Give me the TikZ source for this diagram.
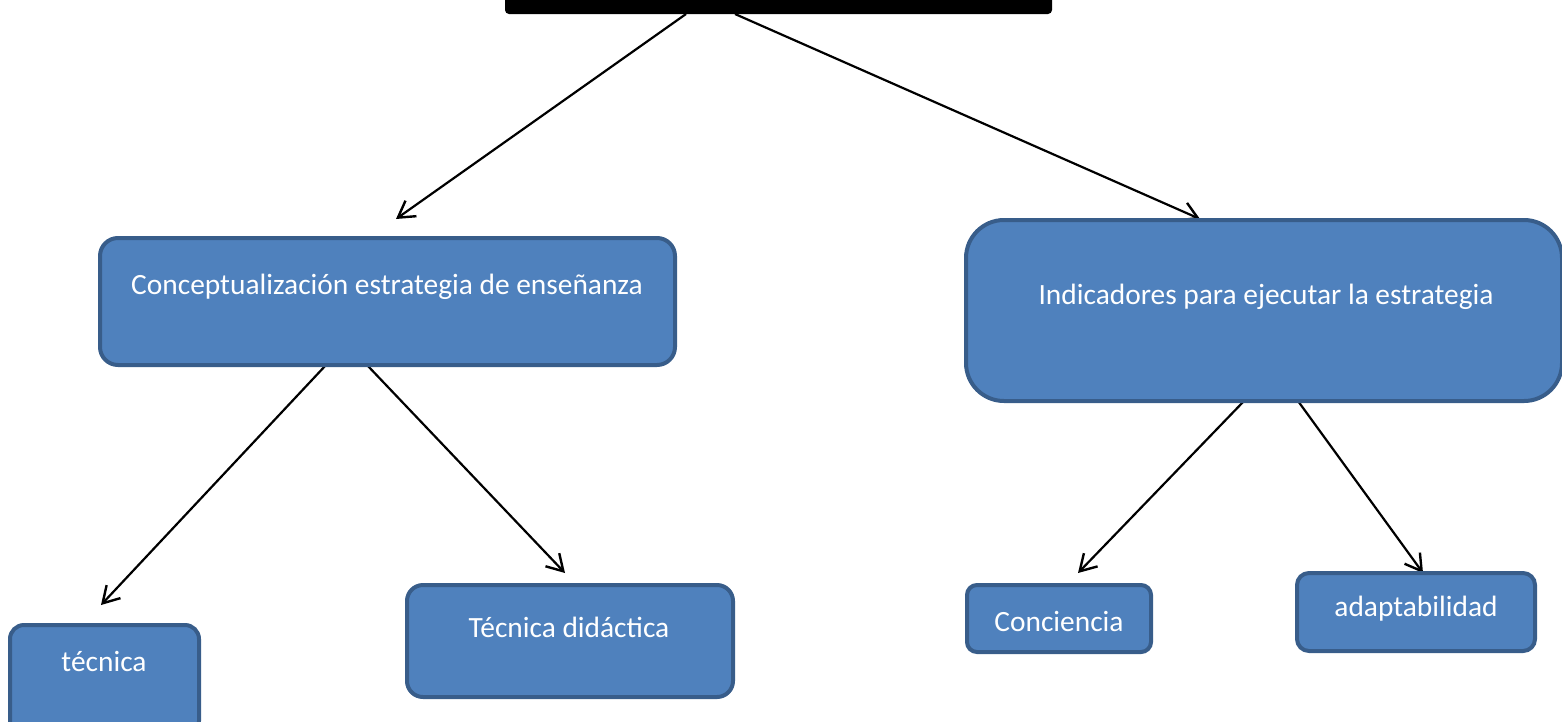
\documentclass[tikz,border=0pt]{standalone}
\usepackage{fontspec}
\setmainfont{Carlito}
\usetikzlibrary{arrows.meta}
\pgfdeclarelayer{edgelayer}
\pgfdeclarelayer{nodelayer}
\pgfsetlayers{edgelayer,nodelayer,main}
\definecolor{boxfill}{HTML}{4F81BD}
\definecolor{boxline}{HTML}{385D8A}
\tikzset{
  box/.style={draw=boxline, fill=boxfill, line width=4pt, rounded corners=#1, inner sep=0pt},
  box/.default=16pt,
  txt/.style={text=white, font=\fontsize{29.4}{34}\selectfont, inner sep=0pt},
  arr/.style={line width=2.2pt, -{Straight Barb[length=16pt,width=19pt,line width=2.4pt]}}
}

\begin{document}
\begin{tikzpicture}[x=1pt, y=-1pt]
    \useasboundingbox (0,0) rectangle (1562,721);

    \begin{pgfonlayer}{nodelayer}
	\node [fill=black, rounded corners=4pt, minimum width=547, minimum height=44, inner sep=0pt] (0) at (778.5, -8) {};
	\node [box=18pt, minimum width=575, minimum height=127] (1) at (387.5, 301.5) {};
	\node [txt] (1t) at (387, 287) {Conceptualización estrategia de enseñanza};
	\node [box=38pt, minimum width=596, minimum height=181] (2) at (1264, 310.5) {};
	\node [txt] (2t) at (1266, 297) {Indicadores para ejecutar la estrategia};
	\node [box=14pt, minimum width=189, minimum height=110] (3) at (104.5, 680) {};
	\node [txt] (3t) at (104, 661) {técnica};
	\node [box=16pt, minimum width=326, minimum height=112] (4) at (570, 641) {};
	\node [txt] (4t) at (569, 627) {Técnica didáctica};
	\node [box=10pt, minimum width=184, minimum height=67] (5) at (1059, 618.5) {};
	\node [txt] (5t) at (1059, 621) {Conciencia};
	\node [box=12pt, minimum width=238, minimum height=78] (6) at (1416, 612) {};
	\node [txt] (6t) at (1416, 609) {adaptabilidad};
    \end{pgfonlayer}

	% arrow ends
	\coordinate (10) at (686, 14);
	\coordinate (11) at (396, 219);
	\coordinate (12) at (735, 14);
	\coordinate (13) at (1200, 219);
	\coordinate (14) at (326, 365);
	\coordinate (15) at (101, 605);
	\coordinate (16) at (367, 365);
	\coordinate (17) at (565, 573);
	\coordinate (18) at (1244, 401);
	\coordinate (19) at (1078, 573);
	\coordinate (20) at (1298, 401);
	\coordinate (21) at (1423, 573);

    \begin{pgfonlayer}{edgelayer}
	\draw [arr] (10) to (11);
	\draw [arr] (12) to (13);
	\draw [arr] (14) to (15);
	\draw [arr] (16) to (17);
	\draw [arr] (18) to (19);
	\draw [arr] (20) to (21);
    \end{pgfonlayer}
\end{tikzpicture}
\end{document}
